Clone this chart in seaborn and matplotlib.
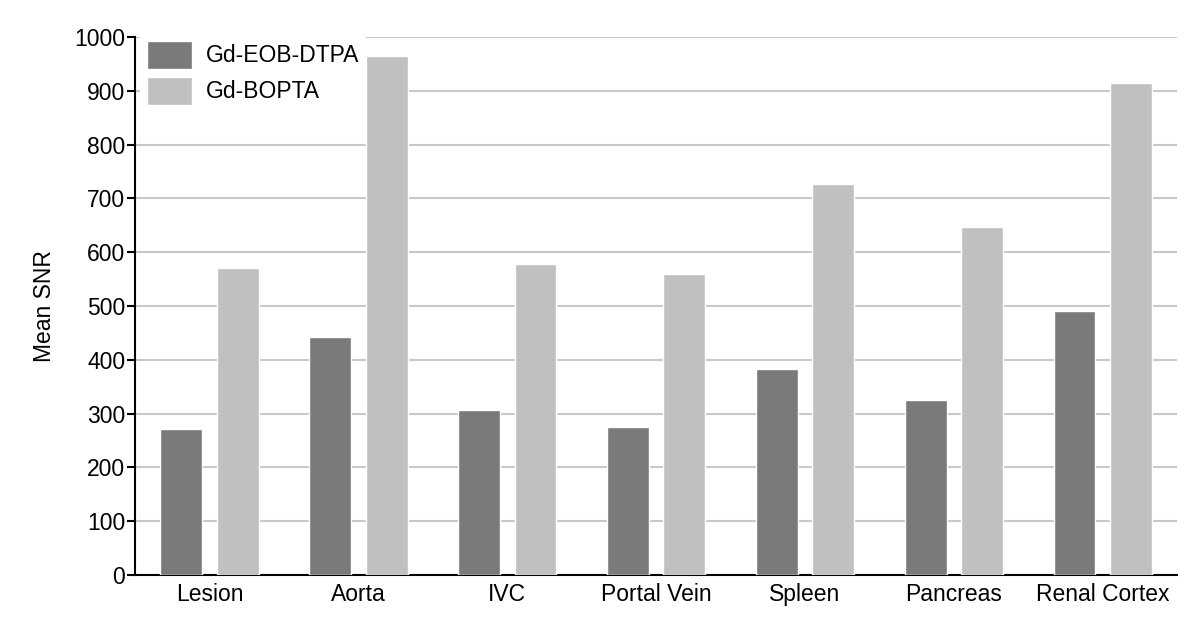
import matplotlib
matplotlib.use('Agg')
import matplotlib.pyplot as plt
import seaborn as sns
import pandas as pd

# values
regions = ['Lesion', 'Aorta', 'IVC', 'Portal Vein', 'Spleen', 'Pancreas', 'Renal Cortex']
eob_dtpa = [271, 442, 306, 276, 383, 325, 491]
bopta = [571, 965, 578, 560, 727, 646, 915]
agents = ['Gd-EOB-DTPA', 'Gd-BOPTA']

df = pd.DataFrame({
    'region': regions * 2,
    'agent': [agents[0]] * len(regions) + [agents[1]] * len(regions),
    'snr': eob_dtpa + bopta,
})

sns.set_style('white')
plt.rcParams['font.family'] = ['Liberation Sans', 'DejaVu Sans']
plt.rcParams['text.color'] = 'black'
plt.rcParams['xtick.color'] = 'black'
plt.rcParams['ytick.color'] = 'black'
plt.rcParams['axes.labelcolor'] = 'black'

fs = 16.5

fig = plt.figure(figsize=(12, 6.28), dpi=100)
ax = fig.add_axes([0.1125, 0.0844, 0.8685, 0.8567])

sns.barplot(data=df, x='region', y='snr', hue='agent', order=regions,
            hue_order=agents, palette=['#7a7a7a', '#c0c0c0'],
            width=0.76, gap=0.26, saturation=1, ax=ax, zorder=3)

ax.set_ylim(0, 1000)
ax.set_xlim(-0.5, 6.5)
ax.set_yticks(range(0, 1001, 100))
ax.yaxis.grid(True, color='#c8c8c8', linewidth=1.5, zorder=0)
ax.set_axisbelow(True)

for side in ['top', 'right']:
    ax.spines[side].set_visible(False)
for side in ['left', 'bottom']:
    ax.spines[side].set_color('black')
    ax.spines[side].set_linewidth(1.5)

ax.tick_params(axis='y', which='both', left=True, length=6, width=1.5,
               color='black', labelsize=fs, pad=1)
ax.tick_params(axis='x', bottom=False, labelsize=fs, pad=2)

ax.set_xlabel('')
ax.set_ylabel('Mean SNR', fontsize=fs, labelpad=13.5)

# legend sits inside the top-left corner, white box hides the gridlines
leg = ax.legend(loc='upper left', bbox_to_anchor=(0.005, 1.006), frameon=True,
                fontsize=fs, handlelength=1.95, handleheight=1.5,
                handletextpad=0.6, labelspacing=0.36, borderaxespad=0,
                borderpad=0.3, fancybox=False)
leg.get_frame().set_facecolor('white')
leg.get_frame().set_edgecolor('none')
leg.get_frame().set_alpha(1)
leg.set_zorder(5)

fig.savefig('out.png', dpi=100)
